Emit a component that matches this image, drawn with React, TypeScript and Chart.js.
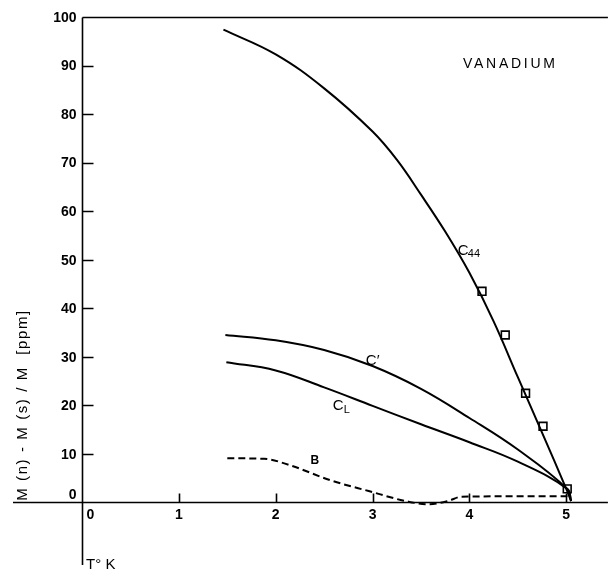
import React, { useEffect, useRef } from 'react';
import { Chart, registerables } from 'chart.js';

Chart.register(...registerables);

// ---- data (T in K, M in ppm) ----
const X_TICKS = [0, 1, 2, 3, 4, 5];
const Y_TICKS = [0, 10, 20, 30, 40, 50, 60, 70, 80, 90, 100];

const C44_T = [1.46, 2.0, 2.5, 3.0, 3.25, 3.5, 3.75, 4.0, 4.25, 4.5, 4.75, 5.0, 5.05];
const C44_M = [97.4, 92.3, 85.3, 76.4, 70.6, 63.4, 55.8, 47.3, 37.3, 25.8, 14.4, 2.8, 0.3];

const C44_SQ_T = [4.13, 4.37, 4.58, 4.76, 5.01];
const C44_SQ_M = [43.5, 34.5, 22.5, 15.7, 2.8];

const CP_T = [1.48, 2.0, 2.5, 3.0, 3.5, 4.0, 4.5, 5.01, 5.05];
const CP_M = [34.5, 33.4, 31.4, 28.1, 23.4, 17.4, 10.9, 2.8, 0.3];

const CL_T = [1.49, 2.0, 2.5, 3.0, 3.5, 4.0, 4.5, 5.01, 5.05];
const CL_M = [28.9, 27.2, 23.7, 19.9, 16.1, 12.4, 8.4, 2.8, 0.3];

const B_T = [1.5, 1.88, 2.15, 2.56, 2.96, 3.37, 3.58, 3.78, 3.92, 5.0, 5.04];
const B_M = [9.1, 9.0, 7.65, 4.6, 2.35, 0.16, -0.37, 0.3, 1.2, 1.3, 0.6];

const pts = (xs: number[], ys: number[]) => xs.map((x, i) => ({ x, y: ys[i] }));

const FONT = '"Liberation Sans", Arial, sans-serif';

const axesPlugin = {
  id: 'manualAxes',
  beforeDatasetsDraw(chart: any) {
    const { ctx, chartArea, scales } = chart;
    const xs = scales.x, ys = scales.y;
    const x0 = Math.round(xs.getPixelForValue(0)) + 0.5;
    const y0 = Math.round(ys.getPixelForValue(0)) + 0.5;
    const yTop = Math.round(ys.getPixelForValue(100)) + 0.5;
    ctx.save();
    ctx.strokeStyle = '#000';
    ctx.lineWidth = 1.6;
    ctx.beginPath();
    ctx.moveTo(chartArea.left, y0); ctx.lineTo(chartArea.right, y0);
    ctx.moveTo(x0, yTop); ctx.lineTo(x0, chartArea.bottom);
    ctx.moveTo(x0, yTop); ctx.lineTo(chartArea.right, yTop);
    Y_TICKS.forEach(v => {
      if (v === 0 || v === 100) return;
      const py = Math.round(ys.getPixelForValue(v)) + 0.5;
      ctx.moveTo(x0, py); ctx.lineTo(x0 + 11, py);
    });
    X_TICKS.forEach(v => {
      if (v === 0) return;
      const px = Math.round(xs.getPixelForValue(v)) + 0.5;
      ctx.moveTo(px, y0); ctx.lineTo(px, y0 - 9);
    });
    ctx.stroke();

    ctx.fillStyle = '#000';
    ctx.font = `bold 14px ${FONT}`;
    ctx.textAlign = 'right';
    Y_TICKS.forEach(v => {
      const py = ys.getPixelForValue(v);
      if (v === 0) {
        ctx.textBaseline = 'alphabetic';
        ctx.fillText(String(v), x0 - 6, y0 - 4);
      } else {
        ctx.textBaseline = 'middle';
        ctx.fillText(String(v), x0 - 6, py + 1);
      }
    });
    ctx.textBaseline = 'middle';
    X_TICKS.forEach(v => {
      const px = xs.getPixelForValue(v);
      if (v === 0) {
        ctx.textAlign = 'left';
        ctx.fillText(String(v), x0 + 4, y0 + 13);
      } else {
        ctx.textAlign = 'center';
        ctx.fillText(String(v), px, y0 + 13);
      }
    });
    ctx.restore();
  },
  afterDatasetsDraw(chart: any) {
    const { ctx, scales } = chart;
    const xs = scales.x, ys = scales.y;
    const X = (v: number) => xs.getPixelForValue(v);
    const Y = (v: number) => ys.getPixelForValue(v);
    ctx.save();
    ctx.fillStyle = '#000';

    const fitText = (s: string, x: number, y: number, width: number, font: string, align: string) => {
      ctx.font = font;
      (ctx as any).letterSpacing = '0px';
      const w = ctx.measureText(s).width;
      const ls = (width - w) / Math.max(1, s.length - 1);
      (ctx as any).letterSpacing = `${ls}px`;
      ctx.textAlign = align;
      ctx.fillText(s, x, y);
      (ctx as any).letterSpacing = '0px';
    };

    // Y title (rotated)
    ctx.save();
    ctx.translate(23, 405);
    ctx.rotate(-Math.PI / 2);
    ctx.textBaseline = 'middle';
    fitText('M (n) - M (s) / M  [ppm]', 0, 0, 190, `15px ${FONT}`, 'center');
    ctx.restore();

    // T° K
    ctx.textBaseline = 'middle';
    ctx.textAlign = 'left';
    ctx.font = `15px ${FONT}`;
    ctx.fillText('T\u00B0 K', X(0) + 4, 565);

    // VANADIUM
    ctx.textBaseline = 'middle';
    fitText('VANADIUM', 463, 64, 92, `14px ${FONT}`, 'left');

    // curve labels
    ctx.textAlign = 'left';
    ctx.textBaseline = 'alphabetic';
    ctx.font = `15px ${FONT}`;
    ctx.fillText('C', X(3.88), Y(51.0));
    ctx.font = `11px ${FONT}`;
    ctx.fillText('44', X(3.88) + 10, Y(50.5));

    ctx.font = `15px ${FONT}`;
    ctx.fillText('C\u2032', X(2.93), Y(28.4));

    ctx.fillText('C', X(2.59), Y(19.0));
    ctx.font = `11px ${FONT}`;
    ctx.fillText('L', X(2.59) + 11, Y(18.4));

    ctx.font = `bold 12px ${FONT}`;
    ctx.fillText('B', X(2.36), Y(7.9));
    ctx.restore();
  },
};

export default function App() {
  const ref = useRef<HTMLCanvasElement | null>(null);
  useEffect(() => {
    if (!ref.current) return;
    const lineDs = (data: any, dash: number[] = [], mono = false) => ({
      type: 'line',
      data,
      borderColor: '#000',
      borderWidth: 2,
      borderDash: dash,
      pointRadius: 0,
      fill: false,
      tension: 0.4,
      cubicInterpolationMode: mono ? 'monotone' : 'default',
    });
    const chart = new Chart(ref.current, {
      type: 'line',
      data: {
        datasets: [
          lineDs(pts(C44_T, C44_M)),
          lineDs(pts(CP_T, CP_M)),
          lineDs(pts(CL_T, CL_M)),
          lineDs(pts(B_T, B_M), [7, 4], true),
          {
            type: 'scatter',
            data: pts(C44_SQ_T, C44_SQ_M),
            pointStyle: 'rect',
            pointRadius: 5.5,
            pointBackgroundColor: '#fff',
            pointBorderColor: '#000',
            pointBorderWidth: 1.6,
            showLine: false,
          },
        ] as any,
      },
      options: {
        animation: false,
        responsive: false,
        events: [],
        layout: { padding: { left: 13, right: 0, top: 17, bottom: 2 } },
        plugins: { legend: { display: false }, tooltip: { enabled: false } },
        scales: {
          x: { type: 'linear', min: -0.713, max: 5.43, display: false },
          y: { type: 'linear', min: -12.86, max: 100, display: false },
        },
      },
      plugins: [axesPlugin],
    } as any);
    return () => chart.destroy();
  }, []);
  return (
    <div style={{ position: 'fixed', left: 0, top: 0, width: 615, height: 572, background: '#fff' }}>
      <canvas ref={ref} width={615} height={572} style={{ width: 615, height: 572 }} />
    </div>
  );
}
